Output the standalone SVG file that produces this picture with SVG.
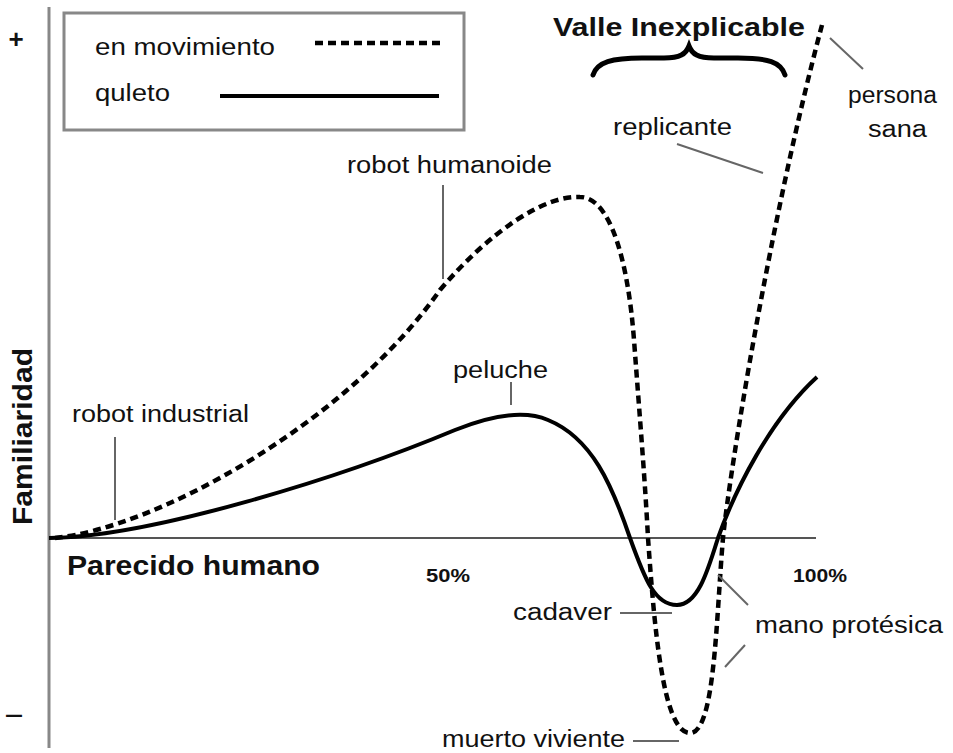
<svg xmlns="http://www.w3.org/2000/svg" width="953" height="753" viewBox="0 0 953 753">
<style>
.lbl{font-family:"Liberation Sans",Arial,sans-serif;font-size:23px;fill:#111;}
.bold{font-family:"Liberation Sans",Arial,sans-serif;font-weight:bold;fill:#111;}
.lead{stroke:#666;stroke-width:2;fill:none;}
.dash{stroke:#000;stroke-width:4.5;fill:none;stroke-dasharray:8 5;}
.solid{stroke:#000;stroke-width:4;fill:none;}
.axis{stroke:#888;stroke-width:3;fill:none;}
</style>
<rect width="953" height="753" fill="#fff"/>
<g id="axes">
<line class="axis" x1="49" y1="7" x2="49" y2="748"/>
<line x1="49" y1="538" x2="816" y2="538" stroke="#555" stroke-width="2"/>
<text class="bold" x="16" y="48" font-size="26" text-anchor="middle">+</text>
<text class="bold" x="5" y="722" font-size="22" textLength="18" lengthAdjust="spacingAndGlyphs">–</text>
<text class="bold" font-size="28" transform="translate(32,525) rotate(-90)" textLength="177" lengthAdjust="spacingAndGlyphs">Familiaridad</text>
<text class="bold" x="67" y="575" font-size="28" textLength="253" lengthAdjust="spacingAndGlyphs">Parecido humano</text>
<text class="bold" x="426" y="582" font-size="18" textLength="44" lengthAdjust="spacingAndGlyphs">50%</text>
<text class="bold" x="793" y="582" font-size="18" textLength="54" lengthAdjust="spacingAndGlyphs">100%</text>
</g>
<g id="legend">
<rect x="64" y="13" width="400" height="117" fill="#fff" stroke="#888" stroke-width="3"/>
<text class="lbl" x="95" y="55" textLength="180" lengthAdjust="spacingAndGlyphs">en movimiento</text>
<line class="dash" x1="315" y1="43" x2="440" y2="43" stroke-width="4" stroke-dasharray="7 3"/>
<text class="lbl" x="95" y="101" textLength="75" lengthAdjust="spacingAndGlyphs">quleto</text>
<line class="solid" x1="220" y1="96" x2="439" y2="96"/>
</g>
<g id="curves">
<path id="moving" class="dash" d="M55,538 C155,528 345,425 440,290 C490,231 545,195 580,197 C610,197 628,260 634,340 C640,420 645,480 648,538 C654,620 662,733 690,733 C715,733 716,620 723,538 C730,470 770,220 822,25"/>
<path id="still" class="solid" d="M49,538 C150,537 340,478 455,430 C495,414 525,410 548,420 C592,438 612,485 630,538 C645,580 655,605 677,605 C698,605 708,570 718,538 C735,490 770,420 817,377"/>
</g>
<g id="valle">
<text class="bold" x="553" y="36" font-size="25" textLength="252" lengthAdjust="spacingAndGlyphs">Valle Inexplicable</text>
<path d="M593,75 C597,62 612,58 642,58 L664,58 C680,58 686,54 689,46 C692,54 698,58 714,58 L738,58 C768,58 781,62 785,75" fill="none" stroke="#000" stroke-width="5" stroke-linecap="round"/>
</g>
<g id="connectors">
<line class="lead" x1="443" y1="185" x2="443" y2="279"/>
<line class="lead" x1="511" y1="382" x2="511" y2="405"/>
<line class="lead" x1="115" y1="437" x2="115" y2="520"/>
<line class="lead" x1="677" y1="144" x2="763" y2="173"/>
<line class="lead" x1="830" y1="38" x2="863" y2="69"/>
<line class="lead" x1="620" y1="613" x2="672" y2="613"/>
<line class="lead" x1="718" y1="575" x2="748" y2="605"/>
<line class="lead" x1="725" y1="667" x2="745" y2="645"/>
<line class="lead" x1="633" y1="741" x2="679" y2="741"/>
</g>
<g id="robot-humanoide"><text class="lbl" x="347" y="173" textLength="205" lengthAdjust="spacingAndGlyphs">robot humanoide</text></g>
<g id="peluche"><text class="lbl" x="453" y="378" textLength="95" lengthAdjust="spacingAndGlyphs">peluche</text></g>
<g id="robot-industrial"><text class="lbl" x="72" y="422" textLength="177" lengthAdjust="spacingAndGlyphs">robot industrial</text></g>
<g id="replicante"><text class="lbl" x="613" y="135" textLength="119" lengthAdjust="spacingAndGlyphs">replicante</text></g>
<g id="persona-sana">
<text class="lbl" x="848" y="103" textLength="89" lengthAdjust="spacingAndGlyphs">persona</text>
<text class="lbl" x="868" y="137" textLength="59" lengthAdjust="spacingAndGlyphs">sana</text>
</g>
<g id="cadaver"><text class="lbl" x="513" y="620" textLength="99" lengthAdjust="spacingAndGlyphs">cadaver</text></g>
<g id="mano-protesica"><text class="lbl" x="755" y="633" textLength="188" lengthAdjust="spacingAndGlyphs">mano protésica</text></g>
<g id="muerto-viviente"><text class="lbl" x="442" y="747" textLength="183" lengthAdjust="spacingAndGlyphs">muerto viviente</text></g>
</svg>
